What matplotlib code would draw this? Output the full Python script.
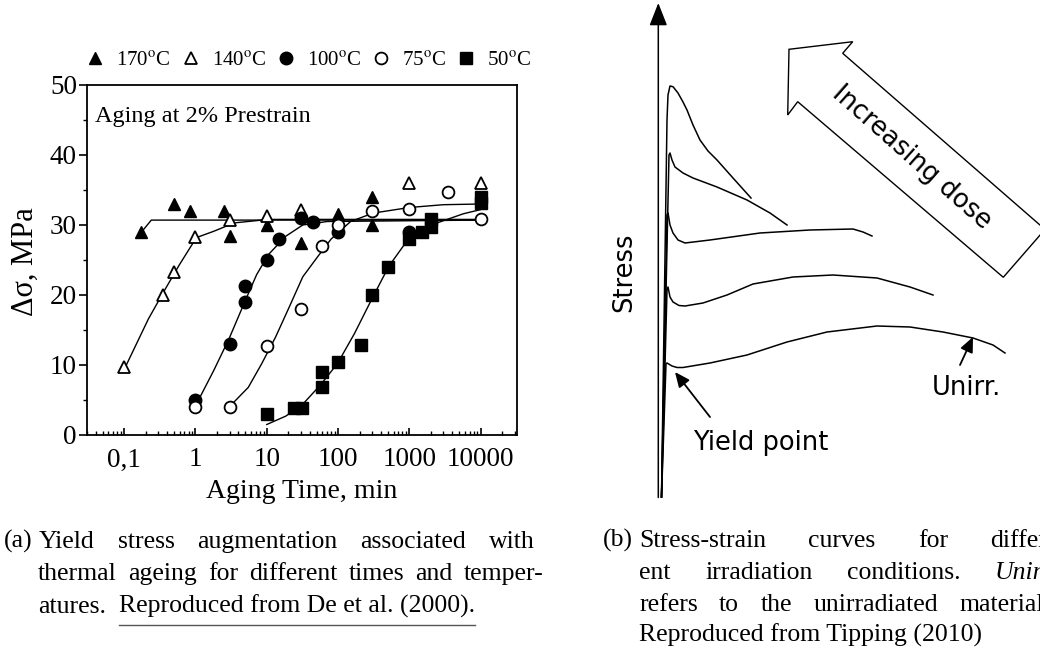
import matplotlib
matplotlib.use('Agg')
import matplotlib.pyplot as plt
from matplotlib.patches import Polygon
from matplotlib.ticker import MultipleLocator, NullFormatter, LogLocator

plt.rcParams['mathtext.fontset'] = 'stix'
SERIF = 'Liberation Serif'
SANS = 'DejaVu Sans'

# ---- panel (a): yield stress increase vs ageing time ----
t170 = [0.17, 0.5, 0.85, 2.5, 3, 10, 30, 100, 300, 300]
s170 = [29, 33, 32, 32, 28.5, 30, 27.5, 31.6, 34, 30]
t140 = [0.1, 0.35, 0.5, 1, 3, 10, 30, 1000, 10000]
s140 = [9.7, 20, 23.3, 28.3, 30.7, 31.3, 32.2, 36, 36]
t100 = [1, 3, 5, 5, 10, 15, 30, 45, 100, 1000]
s100 = [5, 13, 21.3, 19, 25, 28, 31, 30.5, 29, 29]
t75 = [1, 3, 10, 30, 60, 100, 300, 1000, 3500, 10000]
s75 = [4, 4, 12.7, 18, 27, 30, 32, 32.3, 34.7, 30.8]
t50 = [10, 24, 31, 60, 60, 100, 210, 300, 500, 1000, 1500, 2000, 2000, 10000, 10000]
s50 = [3, 3.8, 3.8, 6.9, 9, 10.5, 12.9, 20, 24, 28, 29, 29.7, 30.9, 34, 33.2]

# fitted curves
fit170_t = [0.185, 0.24, 10000]
fit170_s = [29.3, 30.7, 30.7]
fit140_t = [0.106, 0.219, 0.36, 0.593, 1.03, 1.8, 3.5, 10.6, 10000]
fit140_s = [9.9, 16.6, 20.5, 24.3, 28.2, 29.1, 30.3, 30.8, 30.8]
fit100_t = [1.09, 1.8, 2.97, 4.9, 7.2, 10.6, 18.5, 32, 70, 10000]
fit100_s = [4.9, 9.2, 13.8, 19.0, 22.9, 25.8, 28.4, 30.0, 30.5, 30.7]
fit75_t = [3.1, 5.5, 8.5, 13.3, 20.7, 32, 52, 80, 150, 310, 1000, 3000, 10000]
fit75_s = [4.2, 6.8, 10.2, 14.0, 18.3, 22.6, 25.5, 28.0, 30.5, 31.7, 32.5, 32.9, 33.0]
fit50_t = [10, 18.5, 32, 56, 98, 170, 300, 515, 1000, 2300, 5700, 10000]
fit50_s = [1.5, 2.7, 4.4, 7.1, 10.2, 14.5, 19.5, 24.1, 28.2, 30.2, 31.6, 32.2]

x_ticks = [0.1, 1, 10, 100, 1000, 10000]
x_ticklabels = ['0,1', '1', '10', '100', '1000', '10000']
y_ticks = [0, 10, 20, 30, 40, 50]
legend_labels = [r'170$^{\rm o}$C', r'140$^{\rm o}$C', r'100$^{\rm o}$C',
                 r'75$^{\rm o}$C', r'50$^{\rm o}$C']

# ---- panel (b): schematic stress-strain curves (figure pixel coords) ----
curve_dose4 = [(661.5, 497), (667, 120), (668, 95), (670, 86), (673, 86.7), (678, 93),
               (683, 102), (687, 110), (693, 125), (700, 140), (708, 151), (717, 160),
               (733, 178), (751, 198)]
curve_dose3 = [(661.5, 497), (669, 155), (670, 153), (672, 160), (675, 167), (683, 173),
               (693, 178), (717, 187), (747, 200), (770, 213), (787, 225)]
curve_dose2 = [(661.5, 497), (667, 215), (668, 213), (670, 225), (673, 233), (678, 240),
               (685, 243), (710, 240), (760, 233), (810, 230), (853, 229), (863, 232), (872, 236)]
curve_dose1 = [(661.5, 497), (667, 290), (668, 287), (670, 297), (673, 302), (679, 305.5),
               (685, 306), (703, 303), (727, 295), (753, 284), (793, 277), (833, 275),
               (877, 278), (910, 287), (933, 295)]
curve_unirr = [(661.5, 497), (666, 364), (667, 363), (672, 366), (677, 367.5), (683, 367.5),
               (710, 363), (747, 355), (787, 342), (827, 332), (877, 326), (910, 327),
               (943, 332), (973, 338), (993, 345), (1005, 353)]
dose_arrow = [(789, 49.3), (852.7, 41.7), (842.7, 53.3), (1045, 229.4),
              (1003.3, 277.3), (797.7, 101.7), (787.7, 115)]

fig = plt.figure(figsize=(10.4, 6.51), dpi=100)

# overlay axes in pixel coordinates for the schematic and captions
ov = fig.add_axes([0, 0, 1, 1])
ov.set_xlim(0, 1040)
ov.set_ylim(651, 0)
ov.axis('off')
ov.patch.set_visible(False)

ax = fig.add_axes([86.7 / 1040, 1 - 435 / 651, 430.3 / 1040, 350 / 651])
ax.set_xscale('log')
ax.set_xlim(10 ** -1.526, 10 ** 4.51)
ax.set_ylim(0, 50)

ms = 9
for ft, fs in [(fit170_t, fit170_s), (fit140_t, fit140_s), (fit100_t, fit100_s),
               (fit75_t, fit75_s), (fit50_t, fit50_s)]:
    ax.plot(ft, fs, color='black', lw=1.0)

h1, = ax.plot(t170, s170, '^', color='black', ms=ms, ls='none')
h2, = ax.plot(t140, s140, '^', mfc='white', mec='black', mew=1.3, ms=ms, ls='none')
h3, = ax.plot(t100, s100, 'o', color='black', ms=ms, ls='none')
h4, = ax.plot(t75, s75, 'o', mfc='white', mec='black', mew=1.3, ms=ms - 0.5, ls='none')
h5, = ax.plot(t50, s50, 's', color='black', ms=ms - 1, ls='none')

ax.set_xticks(x_ticks)
ax.set_xticklabels(x_ticklabels)
ax.xaxis.set_minor_locator(LogLocator(base=10, subs=range(2, 10), numticks=20))
ax.xaxis.set_minor_formatter(NullFormatter())
ax.set_yticks(y_ticks)
ax.yaxis.set_minor_locator(MultipleLocator(5))
ax.tick_params(axis='x', which='major', direction='in', length=5, width=1.2, pad=9,
               labelsize=19.5)
ax.tick_params(axis='x', which='minor', direction='in', length=3, width=1.0)
ax.tick_params(axis='y', which='major', direction='out', length=6, width=1.2, pad=1,
               labelsize=19.5)
ax.tick_params(axis='y', which='minor', direction='out', length=3, width=1.0)
for lab in ax.get_xticklabels() + ax.get_yticklabels():
    lab.set_family(SERIF)
for sp in ax.spines.values():
    sp.set_linewidth(1.3)

ax.set_xlabel('Aging Time, min', fontsize=20, family=SERIF)
ax.xaxis.set_label_coords(0.5003, -0.125)
ax.set_ylabel('Δσ, MPa', fontsize=22, family=SERIF)
ax.yaxis.set_label_coords(-0.110, 0.494)
ax.text(94.7, 122, 'Aging at 2% Prestrain', transform=ov.transData, fontsize=17.5,
        family=SERIF, va='baseline', ha='left')

fig.legend([h1, h2, h3, h4, h5], legend_labels, loc='center', ncol=5, frameon=False,
           bbox_to_anchor=(309 / 1040, 1 - 61 / 651), handlelength=0.8,
           handletextpad=0.6, columnspacing=0.55, prop={'family': SERIF, 'size': 15})

# ---- panel (b) drawing ----
ov.annotate('', xy=(658.3, 3), xytext=(658.3, 497.5),
            arrowprops=dict(arrowstyle='-|>,head_length=1.4,head_width=0.55',
                            lw=1.1, color='black', shrinkA=0, shrinkB=0))
ov.annotate('', xy=(1042, 497.3), xytext=(657.7, 497.3),
            arrowprops=dict(arrowstyle='-|>,head_length=1.4,head_width=0.55',
                            lw=1.1, color='black', shrinkA=0, shrinkB=0))
for c in [curve_dose4, curve_dose3, curve_dose2, curve_dose1, curve_unirr]:
    xs, ys = zip(*c)
    ov.plot(xs, ys, color='black', lw=1.1, solid_joinstyle='round')

ov.add_patch(Polygon(dose_arrow, closed=True, facecolor='white', edgecolor='black',
                     lw=1.0, clip_on=False))
ov.text(911.7, 157.5, 'Increasing dose', rotation=-41.5, rotation_mode='anchor',
        ha='center', va='center', fontsize=18.5, family=SANS)
ov.text(624, 272.5, 'Stress', rotation=90, ha='center', va='center', fontsize=18.5,
        family=SANS)
ov.text(693, 450, 'Yield point', ha='left', va='baseline', fontsize=18.5, family=SANS)
ov.text(932, 395, 'Unirr.', ha='left', va='baseline', fontsize=18.5, family=SANS)
ov.annotate('', xy=(675, 372), xytext=(710, 417),
            arrowprops=dict(arrowstyle='-|>,head_length=0.9,head_width=0.4',
                            lw=1.3, color='black', shrinkA=0, shrinkB=0))
ov.annotate('', xy=(973, 337), xytext=(960, 365),
            arrowprops=dict(arrowstyle='-|>,head_length=0.9,head_width=0.4',
                            lw=1.3, color='black', shrinkA=0, shrinkB=0))

# ---- captions ----
CAP = 18.5
renderer = fig.canvas.get_renderer()


def justified(words, x0, x_last, y, styles=None):
    texts = []
    for i, w in enumerate(words):
        st = styles[i] if styles else 'normal'
        texts.append(ov.text(x0, y, w, fontsize=CAP, family=SERIF, style=st,
                             ha='left', va='baseline'))
    widths = [t.get_window_extent(renderer).width for t in texts]
    gap = (x_last - x0 - sum(widths[:-1])) / (len(words) - 1)
    x = x0
    for t, wd in zip(texts, widths):
        t.set_x(x)
        x += wd + gap


ov.text(3.4, 548, '(a)', fontsize=CAP, family=SERIF, va='baseline')
justified('Yield stress augmentation associated with'.split(), 39, 489, 548)
justified('thermal ageing for different times and temper-'.split(), 38, 464, 580)
ov.text(38, 613, 'atures.', fontsize=CAP, family=SERIF, va='baseline')
ref = ov.text(119, 613, 'Reproduced from De et al. (2000).', fontsize=CAP,
              family=SERIF, va='baseline')
bb = ref.get_window_extent(renderer)
ov.plot([119, 119 + bb.width], [624.5, 624.5], color='#555555', lw=1.0)

ov.text(603, 547, '(b)', fontsize=CAP, family=SERIF, va='baseline')
justified('Stress-strain curves for differ-'.split(), 639, 990, 547)
justified('ent irradiation conditions. Unirr.'.split(), 639, 995, 579,
          styles=['normal', 'normal', 'normal', 'italic'])
justified('refers to the unirradiated material.'.split(), 639, 960, 611)
ov.text(639, 642, 'Reproduced from Tipping (2010)', fontsize=CAP, family=SERIF,
        va='baseline')

fig.savefig('out.png', dpi=100)
